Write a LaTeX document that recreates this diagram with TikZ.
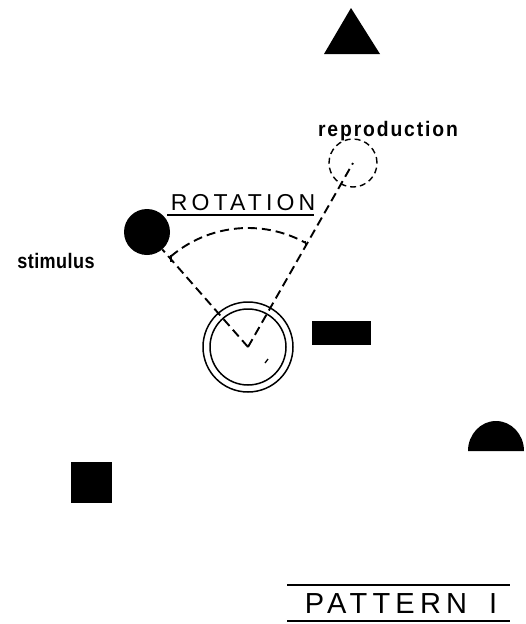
\documentclass[tikz,border=0pt]{standalone}
\usepackage{fontspec}
\setmainfont{Liberation Sans}
\newfontfamily\thinlet[LetterSpace=18]{Liberation Sans}
\newfontfamily\boldlet[LetterSpace=9,FakeStretch=0.92]{Liberation Sans Bold}
\newfontfamily\boldnarrow[LetterSpace=2,FakeStretch=0.86]{Liberation Sans Bold}
\usetikzlibrary{calc}
\begin{document}
\begin{tikzpicture}[x=1pt,y=-1pt,
  dashline/.style={line width=1.9pt, dash pattern=on 9pt off 5pt},
  ring/.style={draw, circle, line width=1.5pt, inner sep=0pt},
  blob/.style={fill=black, circle, inner sep=0pt},
  rule/.style={line width=1.8pt},
  txt/.style={anchor=base, inner sep=0pt}]
\useasboundingbox (0,0) rectangle (525,624);
% solid shapes
\fill (351,8) -- (380,54) -- (324,54) -- cycle;
\fill (312,321) rectangle (371,345);
\fill (468,451) arc[start angle=180, end angle=0, x radius=28pt, y radius=30pt] -- cycle;
\fill (71,462) rectangle (112,503);
% stimulus, reproduction, fixation
\node[blob, minimum size=46pt] (stim) at (147,232) {};
\node[draw, circle, inner sep=0pt, line width=1.4pt, dash pattern=on 6pt off 4pt, minimum size=48pt] (rep) at (353,163) {};
\node[ring, minimum size=90pt] (outer) at (248,347) {};
\node[ring, minimum size=76pt] (inner) at (248,347) {};
\draw[dashline] (outer.center) -- (stim);
\draw[dashline] (outer.center) -- (rep.center);
\coordinate (a1) at ($(outer.center)+(130.5:119pt)$);
\coordinate (a2) at ($(outer.center)+(61:119pt)$);
\draw[dashline] (a1) arc[start angle=130.5, end angle=61, radius=119pt];
\draw[line width=1.6pt] ($(a1)+(0,-2)$) -- ($(a1)+(0,5)$);
\draw[line width=1.6pt] ($(a2)+(0,-2)$) -- ($(a2)+(0,5)$);
\draw[line width=1.3pt] (265,363) -- (268,359);
% labels
\node[txt, font=\boldnarrow\fontsize{21}{21}\selectfont] (stimlbl) at (56,268) {stimulus};
\node[txt, font=\boldlet\fontsize{21}{21}\selectfont] (replbl) at (388,136) {reproduction};
\node[txt, font=\thinlet\fontsize{23}{23}\selectfont] (rot) at (243,210) {ROTATION};
\draw[rule] (167,215) -- (314,215);
\node[txt, font=\thinlet\fontsize{29}{29}\selectfont] (pat) at (401,613) {PATTERN\hspace{22pt}I};
\draw[rule] (287,585) -- (510,585);
\draw[rule] (287,621) -- (510,621);
\end{tikzpicture}
\end{document}
